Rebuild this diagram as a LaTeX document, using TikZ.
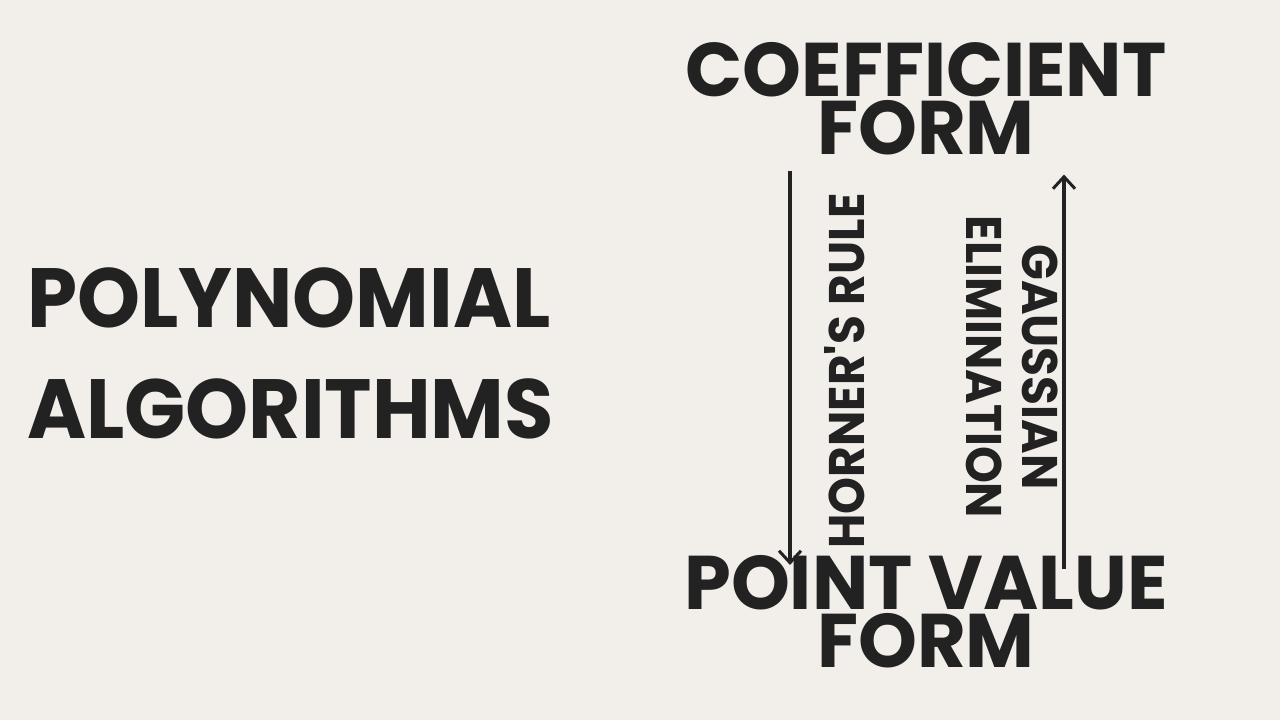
\documentclass[tikz,border=0pt]{standalone}
\usepackage{fontspec}
\setmainfont{Poppins}[UprightFont=* Bold]
\newfontfamily\titlefont{Poppins}[UprightFont=* Bold,FakeStretch=0.986]
\newfontfamily\bigfont{Poppins}[UprightFont=* Bold,FakeStretch=0.955]
\newfontfamily\sidefont{Poppins}[UprightFont=* Bold,FakeStretch=0.94]
\usetikzlibrary{arrows.meta,calc}
\definecolor{bg}{HTML}{F2EEE9}
\definecolor{ink}{HTML}{222222}
\begin{document}
\begin{tikzpicture}[x=1pt,y=-1pt,
  title/.style={inner sep=0pt,text=ink,align=center,font=\titlefont\fontsize{76}{58}\selectfont},
  big/.style={inner sep=0pt,text=ink,align=left,font=\bigfont\fontsize{84}{111}\selectfont},
  side/.style={inner sep=0pt,text=ink,align=center,font=\sidefont\fontsize{50}{56}\selectfont},
  arr/.style={draw=ink,line width=3.5pt,-{Straight Barb[length=12pt,width=22pt,line width=3pt]}}]
\fill[bg] (0,0) rectangle (1280,720);
\useasboundingbox (0,0) rectangle (1280,720);
\node[big,anchor=west] (poly) at (27,353) {POLYNOMIAL\\ALGORITHMS};
\node[title] (coef) at (926,99) {COEFFICIENT\\FORM};
\node[title] (pv) at (926,611.5) {POINT VALUE\\FORM};
\node[side,rotate=90] (horner) at (845,371) {HORNER\textquotesingle S RULE};
\node[side,rotate=-90] (gauss) at (1012,367) {GAUSSIAN\\ELIMINATION};
\draw[arr] ($(coef.south)+(-136,15)$) -- ($(pv.north)+(-136,10)$);
\draw[arr] ($(pv.north)+(138,14)$) -- ($(coef.south)+(138,19)$);
\end{tikzpicture}
\end{document}
